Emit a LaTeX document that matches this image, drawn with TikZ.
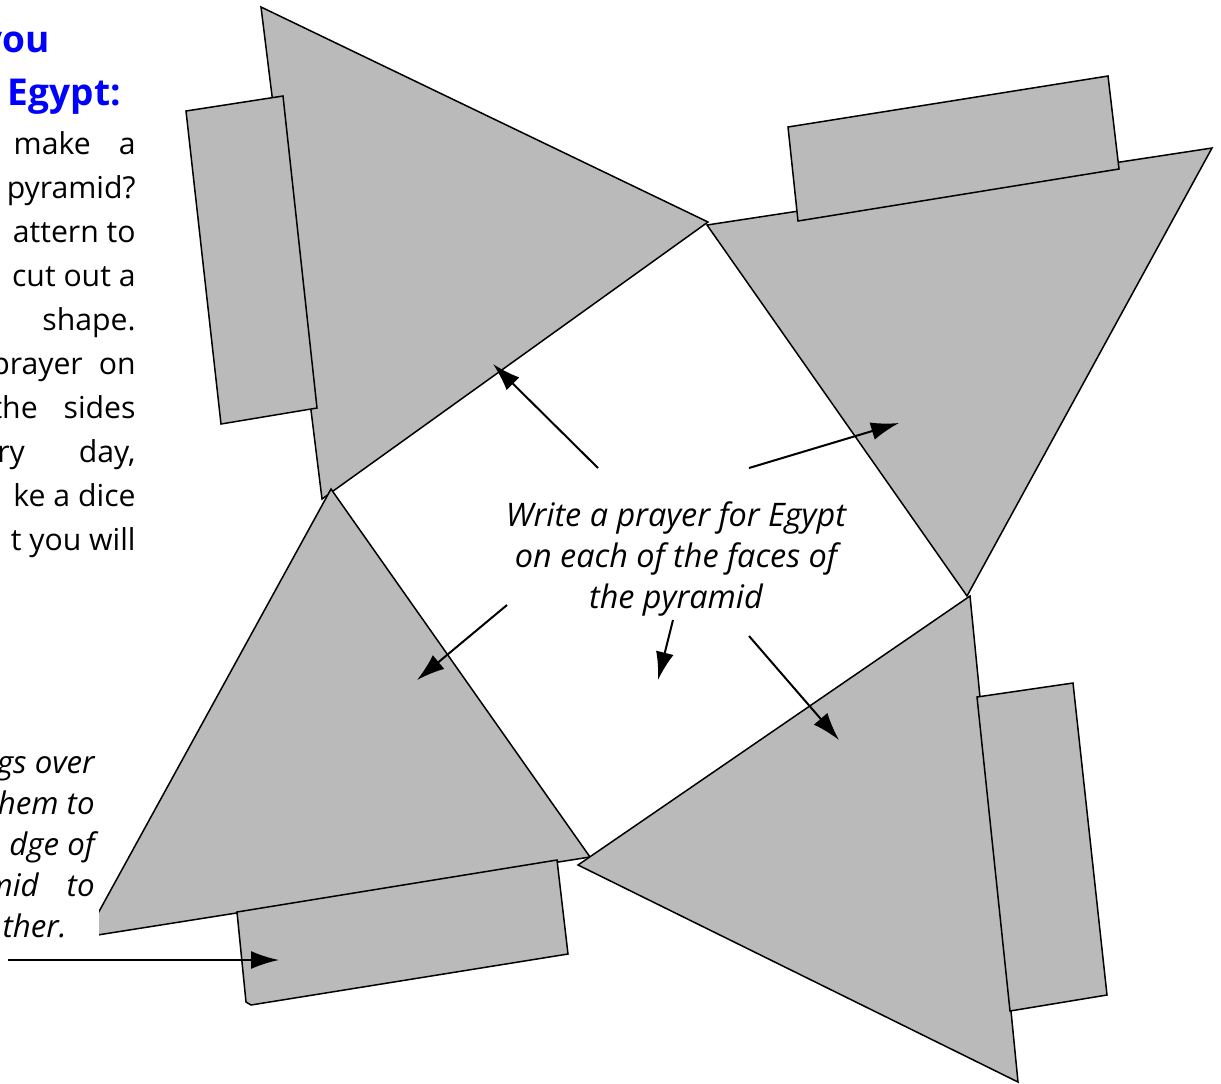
\documentclass[tikz,border=0pt]{standalone}
\usepackage{fontspec}
\setmainfont{Open Sans}
\usetikzlibrary{arrows.meta}
\tikzset{
  facepoly/.style={draw=black,fill=black!27,line width=0.75pt,line join=miter},
  tabpoly/.style={draw=black,fill=black!27,line width=0.75pt},
  pointer/.style={-{Latex[length=14pt,width=9pt]},line width=1pt},
  bodytext/.style={inner sep=0pt,align=right,font=\fontsize{15.1}{22}\selectfont},
  headtext/.style={inner sep=0pt,text=blue,font=\fontsize{18.5}{20}\selectfont\bfseries},
  slanttext/.style={font=\fontsize{16.2}{20.5}\selectfont\itshape},
  cornertext/.style={font=\fontsize{15.6}{20.5}\selectfont\itshape}
}
\begin{document}
\begin{tikzpicture}[>=Latex,x=0.5pt,y=-0.5pt]
\useasboundingbox (0,0) rectangle (1221,1083);
\draw[facepoly] (261,7) -- (708,222) -- (322,499) -- cycle;
\draw[facepoly] (707,225) -- (1212,148) -- (967,596) -- cycle;
\draw[facepoly] (331,489) -- (590,857) -- (85,937) -- cycle;
\draw[facepoly] (970,596) -- (1018,1082) -- (578,865) -- cycle;
\draw[tabpoly] (186,111) -- (283,96) -- (317,408) -- (221,424) -- cycle;
\draw[tabpoly] (788,127) -- (1108,76) -- (1119,169) -- (798,221) -- cycle;
\draw[tabpoly] (977,697) -- (1073,683) -- (1107,995) -- (1010,1011) -- cycle;
\draw[tabpoly] (237,912) -- (557,860) -- (568,954) -- (251,1005) -- (246,1002) -- cycle;
\node[headtext,anchor=east] (headone) at (50,47) {you};
\node[headtext,anchor=east] (headtwo) at (121,97) {Egypt:};
\node[bodytext,anchor=north east] (bodypara) at (136,131) {make\hspace{14pt}a\\pyramid?\\attern to\\cut out a\\shape.\\prayer\hspace{8pt}on\\the\hspace{13pt}sides\\ry\hspace{27pt}day,\\ke a dice\\t you will};
\node[slanttext,align=center,anchor=center] (prayernote) at (676,559) {Write a prayer for Egypt\\on each of the faces of\\the pyramid};
\node[cornertext,fill=white,inner sep=2pt,align=right,anchor=north east,minimum width=55pt,minimum height=98pt] (tabnote) at (99,749) {gs over\\hem to\\dge of\\mid\hspace{14pt}to\\ther.\hspace*{14pt}};
\coordinate (tailA) at (598,468);
\coordinate (headA) at (493,364);
\coordinate (tailB) at (749,468);
\coordinate (headB) at (899,423);
\coordinate (tailC) at (507,605);
\coordinate (headC) at (417,680);
\coordinate (tailD) at (673,620);
\coordinate (headD) at (658,680);
\coordinate (tailE) at (749,636);
\coordinate (headE) at (839,740);
\coordinate (tailF) at (8,960);
\coordinate (headF) at (279,960);
\draw[pointer] (tailA)--(headA);
\draw[pointer] (tailB)--(headB);
\draw[pointer] (tailC)--(headC);
\draw[pointer] (tailD)--(headD);
\draw[pointer] (tailE)--(headE);
\draw[pointer] (tailF)--(headF);
\end{tikzpicture}
\end{document}
